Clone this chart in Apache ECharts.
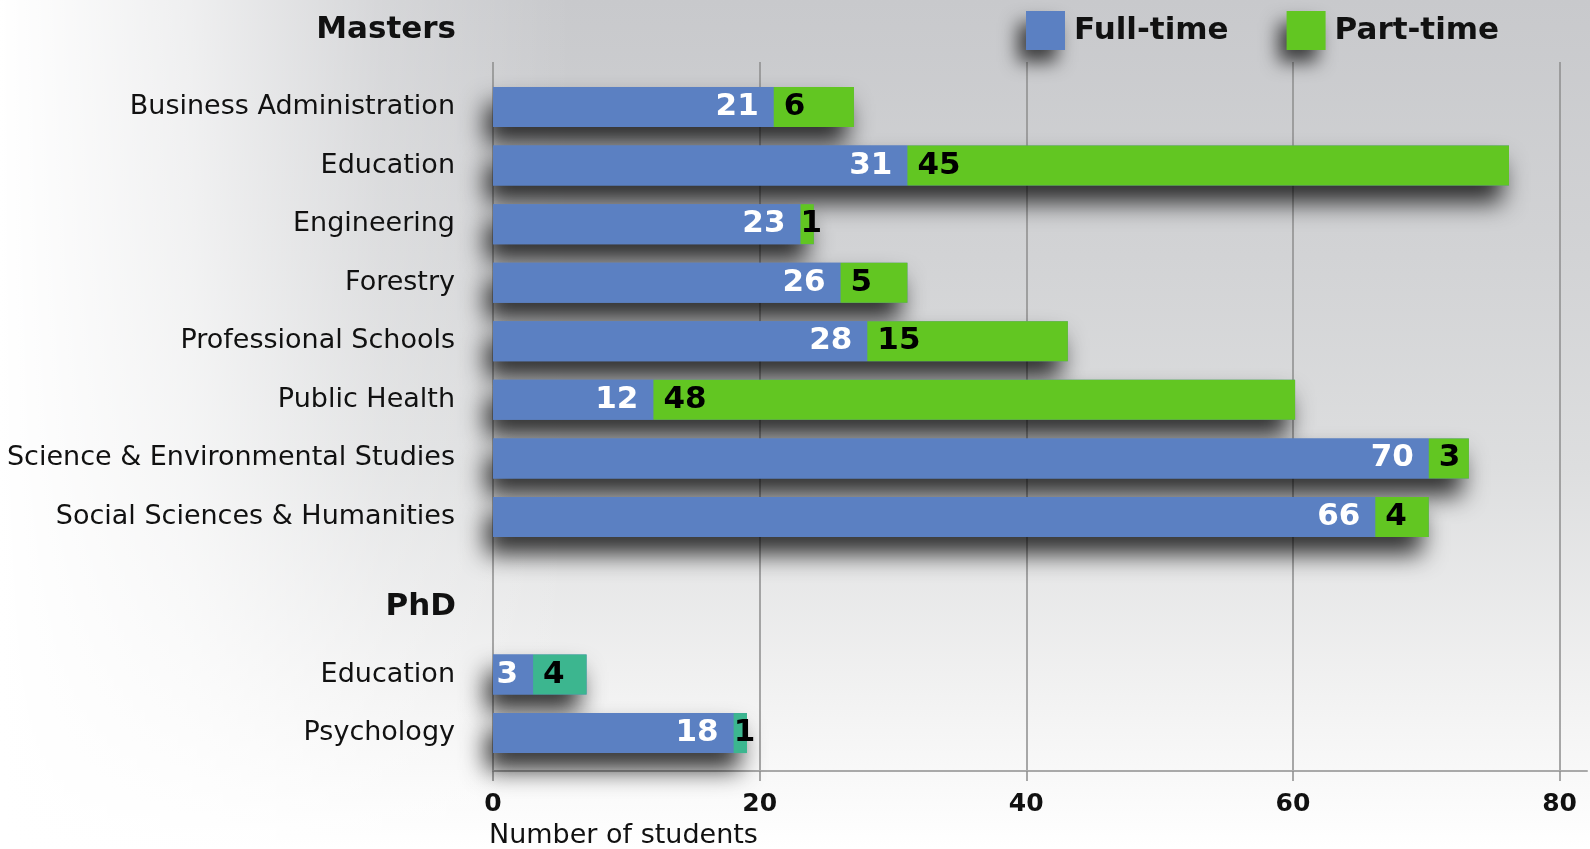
<!DOCTYPE html>
<html>
<head>
<meta charset="utf-8">
<script src="https://cdn.jsdelivr.net/npm/echarts@6/dist/echarts.min.js"></script>
<style>
  html, body { margin: 0; padding: 0; width: 1590px; height: 849px; overflow: hidden; }
  body {
    background:
      linear-gradient(to right, #ffffff 0%, rgba(255,255,255,0.7) 12%, rgba(255,255,255,0.25) 24%, rgba(255,255,255,0) 36%),
      linear-gradient(to bottom, #c8c9cc 0%, #d2d3d5 30%, #dddedf 55%, #f2f2f2 82%, #ffffff 100%);
  }
  #chart { width: 1590px; height: 849px; }
</style>
</head>
<body>
<div id="chart"></div>
<script>
// ---- data ----
const mastersCategories = ['Business Administration', 'Education', 'Engineering', 'Forestry',
  'Professional Schools', 'Public Health', 'Science & Environmental Studies', 'Social Sciences & Humanities'];
const mastersFullTime = [21, 31, 23, 26, 28, 12, 70, 66];
const mastersPartTime = [6, 45, 1, 5, 15, 48, 3, 4];
const phdCategories = ['Education', 'Psychology'];
const phdFullTime = [3, 18];
const phdPartTime = [4, 1];
const xTicks = [0, 20, 40, 60, 80];

// ---- style ----
const FONT = 'DejaVu Sans';
const BLUE = '#5b80c2';
const GREEN = '#62c622';
const TEAL = '#3cb68f';
const AXIS_MAX = 82.06;
const LEFT = 493;
const RIGHT = 0;

function totals(a, b) { return a.map((v, i) => v + b[i]); }

function partData(arr) {
  return arr.map(v => v <= 1 ? { value: v, label: { distance: 0 } } : v);
}

function barSeries(gridIdx, full, part, partColor) {
  const shadowSeries = {
    name: 'shadow', type: 'bar', xAxisIndex: gridIdx, yAxisIndex: gridIdx,
    data: totals(full, part), barWidth: 40, barGap: '-100%', z: 1, silent: true,
    itemStyle: { color: BLUE, shadowBlur: 24, shadowOffsetX: -7, shadowOffsetY: 17, shadowColor: 'rgba(0,0,0,0.8)' },
    label: { show: false }
  };
  const fullSeries = {
    name: 'Full-time', type: 'bar', stack: 's' + gridIdx, xAxisIndex: gridIdx, yAxisIndex: gridIdx,
    data: full, barWidth: 40, barGap: '-100%', z: 3,
    itemStyle: { color: BLUE },
    label: { show: true, position: 'insideRight', distance: 15, color: '#ffffff',
      fontFamily: FONT, fontWeight: 'bold', fontSize: 31 }
  };
  const partSeries = {
    name: 'Part-time', type: 'bar', stack: 's' + gridIdx, xAxisIndex: gridIdx, yAxisIndex: gridIdx,
    data: partData(part), barWidth: 40, barGap: '-100%', z: 3,
    itemStyle: { color: partColor },
    label: { show: true, position: 'insideLeft', distance: 10, color: '#000000',
      fontFamily: FONT, fontWeight: 'bold', fontSize: 31 }
  };
  return [shadowSeries, fullSeries, partSeries];
}

const hiddenX = (idx) => ({
  type: 'value', gridIndex: idx, min: 0, max: AXIS_MAX, interval: 20,
  show: false, splitLine: { show: false }
});
const catY = (idx, cats) => ({
  type: 'category', gridIndex: idx, data: cats, inverse: true,
  axisLine: { show: false }, axisTick: { show: false }, splitLine: { show: false },
  axisLabel: { color: '#111', fontFamily: FONT, fontSize: 27, margin: 38 }
});

const chart = echarts.init(document.getElementById('chart'), null, { renderer: 'canvas' });
chart.setOption({
  backgroundColor: 'transparent',
  animation: false,
  title: [
    { text: 'Masters', right: 1590 - 461, top: 9,
      textStyle: { fontFamily: FONT, fontWeight: 'bold', fontSize: 31, color: '#111' } },
    { text: 'PhD', right: 1590 - 461, top: 586,
      textStyle: { fontFamily: FONT, fontWeight: 'bold', fontSize: 31, color: '#111' } }
  ],
  legend: {
    data: ['Full-time', 'Part-time'],
    left: 1021, top: 6,
    icon: 'rect', itemWidth: 39, itemHeight: 39, itemGap: 58,
    selectedMode: false,
    textStyle: { fontFamily: FONT, fontWeight: 'bold', fontSize: 31, color: '#111', padding: [0, 0, 0, 4] },
    itemStyle: { shadowBlur: 18, shadowOffsetX: -8, shadowOffsetY: 12, shadowColor: 'rgba(0,0,0,0.7)' }
  },
  grid: [
    { left: LEFT, right: RIGHT, top: 62, bottom: 72 },
    { left: LEFT, right: RIGHT, top: 77.7, height: 468.6 },
    { left: LEFT, right: RIGHT, top: 645.2, height: 117.2 }
  ],
  xAxis: [
    {
      type: 'value', gridIndex: 0, min: 0, max: AXIS_MAX, interval: 20,
      axisLine: { show: true, lineStyle: { color: '#a9a9a9', width: 2 } },
      axisTick: { show: true, length: 10, customValues: xTicks, lineStyle: { color: '#8c8c8c', width: 1.5 } },
      splitLine: { show: true, lineStyle: { color: '#8c8c8c', width: 1.5 } },
      axisLabel: {
        margin: 21, color: '#111', fontFamily: FONT, fontWeight: 'bold', fontSize: 25,
        formatter: v => xTicks.indexOf(v) >= 0 ? String(v) : ''
      },
      name: 'Number of students', nameLocation: 'start', nameGap: 4,
      nameTextStyle: { fontFamily: FONT, fontSize: 27, color: '#111', align: 'left', verticalAlign: 'top',
        padding: [51, 0, 0, 0] }
    },
    hiddenX(1),
    hiddenX(2)
  ],
  yAxis: [
    { type: 'value', gridIndex: 0, min: 0, max: 1, show: false, splitLine: { show: false } },
    catY(1, mastersCategories),
    catY(2, phdCategories)
  ],
  series: [
    ...barSeries(1, mastersFullTime, mastersPartTime, GREEN),
    ...barSeries(2, phdFullTime, phdPartTime, TEAL)
  ]
});
</script>
</body>
</html>
